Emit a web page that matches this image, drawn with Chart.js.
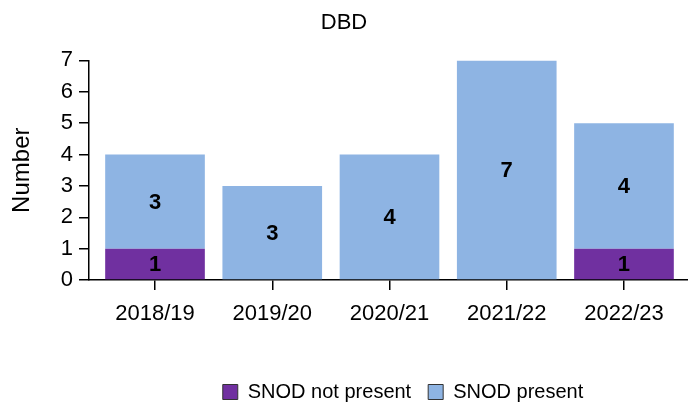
<!DOCTYPE html>
<html>
<head>
<meta charset="utf-8">
<script src="https://cdn.jsdelivr.net/npm/chart.js@4.4.0/dist/chart.umd.min.js"></script>
<style>
  html, body { margin: 0; padding: 0; background: #fff; }
  #wrap { width: 688px; height: 405px; }
</style>
</head>
<body>
<div id="wrap"><canvas id="myChart" width="688" height="405"></canvas></div>
<script>
    // Data
    const years = ['2018/19', '2019/20', '2020/21', '2021/22', '2022/23'];
    const snodNotPresent = [1, 0, 0, 0, 1];
    const snodPresent = [3, 3, 4, 7, 4];
    const yTicks = [0, 1, 2, 3, 4, 5, 6, 7];

    const font = "'Liberation Sans', Arial, sans-serif";

    // Bold numbers in the middle of each bar segment
    const segmentLabels = {
        id: 'segmentLabels',
        afterDatasetsDraw(chart) {
            const ctx = chart.ctx;
            ctx.save();
            ctx.font = 'bold 22px ' + font;
            ctx.fillStyle = '#000';
            ctx.textAlign = 'center';
            ctx.textBaseline = 'middle';
            chart.data.datasets.forEach((ds, i) => {
                chart.getDatasetMeta(i).data.forEach((bar, j) => {
                    const v = ds.data[j].y;
                    if (!v) return;
                    ctx.fillText(String(v), bar.x, (bar.y + bar.base) / 2 + 1);
                });
            });
            ctx.restore();
        }
    };

    // legend sits right of centre and low in the original
    const legendShift = {
        id: 'legendShift',
        afterLayout(chart) {
            chart.legend.left += 59;
            chart.legend.right += 59;
            chart.legend.top += 7;
            chart.legend.bottom += 7;
        }
    };

    // years sit on a numeric axis so the first bar can start a little right of the y axis
    const toPoints = arr => arr.map((v, i) => ({ x: i, y: v }));

    var ctx = document.getElementById('myChart').getContext('2d');
    var chart = new Chart(ctx, {
        type: 'bar',
        data: {
            datasets: [
                {
                    label: 'SNOD not present',
                    data: toPoints(snodNotPresent),
                    backgroundColor: '#7030A0',
                    borderWidth: 0
                },
                {
                    label: 'SNOD present',
                    data: toPoints(snodPresent),
                    backgroundColor: '#8EB4E3',
                    borderWidth: 0
                }
            ]
        },
        options: {
            responsive: false,
            animation: false,
            layout: { padding: { left: 0, right: 0, top: 0, bottom: 0 } },
            datasets: { bar: { barPercentage: 0.85, categoryPercentage: 1 } },
            plugins: {
                title: {
                    display: true,
                    text: 'DBD',
                    color: '#000',
                    font: { family: font, size: 22, weight: 'normal' },
                    padding: { top: 10, bottom: 24 }
                },
                legend: {
                    position: 'bottom',
                    labels: {
                        color: '#000',
                        font: { family: font, size: 20 },
                        boxWidth: 15,
                        boxHeight: 15,
                        padding: 17,
                        generateLabels(chart) {
                            return chart.data.datasets.map((ds, i) => ({
                                text: ds.label,
                                fillStyle: ds.backgroundColor,
                                strokeStyle: '#333',
                                lineWidth: 1,
                                datasetIndex: i
                            }));
                        }
                    }
                },
                tooltip: { enabled: false }
            },
            scales: {
                x: {
                    type: 'linear',
                    stacked: true,
                    offset: false,
                    min: -0.563,
                    max: 4.546,
                    afterBuildTicks(scale) { scale.ticks = years.map((y, i) => ({ value: i })); },
                    grid: { display: true, offset: false, drawOnChartArea: false, drawTicks: true, tickLength: 10, color: '#000', lineWidth: 1.5 },
                    border: { display: true, color: '#000', width: 1.5 },
                    ticks: {
                        color: '#000',
                        font: { family: font, size: 22 },
                        padding: 11,
                        maxRotation: 0,
                        autoSkip: false,
                        callback: v => years[v]
                    },
                    afterFit(scale) { scale.height = 78; }
                },
                y: {
                    stacked: true,
                    min: 0,
                    max: 7,
                    afterBuildTicks(scale) { scale.ticks = yTicks.map(v => ({ value: v })); },
                    grid: { display: true, drawOnChartArea: false, drawTicks: true, tickLength: 10, color: '#000', lineWidth: 1.5 },
                    border: { display: true, color: '#000', width: 1.5 },
                    ticks: { color: '#000', font: { family: font, size: 22 }, padding: 6 },
                    title: {
                        display: true,
                        text: 'Number',
                        color: '#000',
                        font: { family: font, size: 24 },
                        padding: { top: 8, bottom: 4 }
                    },
                    afterFit(scale) { scale.width = 89; }
                }
            }
        },
        plugins: [segmentLabels, legendShift]
    });
</script>
</body>
</html>
